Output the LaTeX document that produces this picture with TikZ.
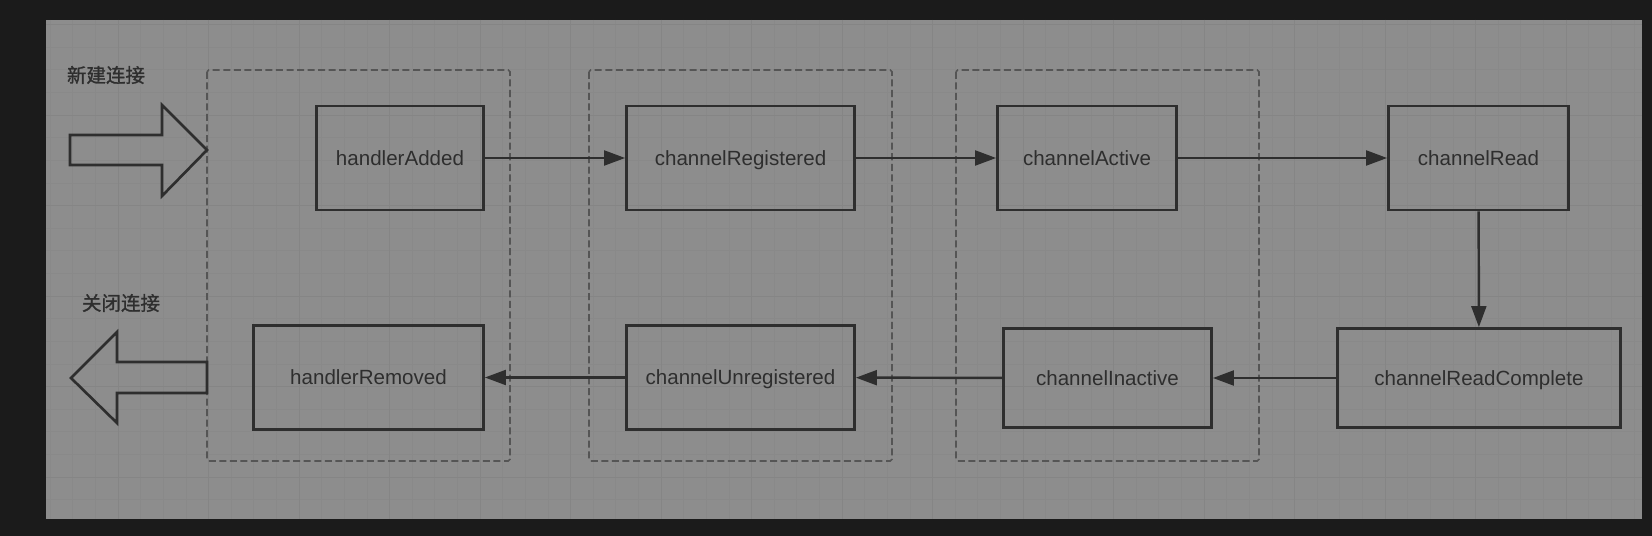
\documentclass[tikz,border=0pt]{standalone}
\usepackage{fontspec}
\setmainfont{Liberation Sans}
\newfontfamily\cjkfont[FakeBold=1.2]{Noto Sans CJK SC}
\usepackage{tikz}
\usetikzlibrary{arrows.meta,positioning}

\definecolor{canvas}{HTML}{1B1B1B}
\definecolor{board}{HTML}{8D8D8D}
\definecolor{gridminor}{HTML}{898989}
\definecolor{gridmajor}{HTML}{858585}
\definecolor{ink}{HTML}{2E2E2E}
\definecolor{dashink}{HTML}{555555}

\begin{document}
\begin{tikzpicture}[%
                x=0.02cm, y=-0.02cm,
                hook/.style={draw=ink, line width=1.6pt, text=ink, inner sep=0pt,
                  font=\fontsize{11.7}{14}\selectfont, text height=8.4pt, text depth=0pt,
                  minimum height=2.08cm},
                flow/.style={draw=ink, line width=1.4pt, -{Triangle[length=12pt,width=8.5pt]}},
                group/.style={draw=dashink, line width=0.9pt, dash pattern=on 4pt off 2pt, rounded corners=1pt},
                bigarrow/.style={draw=ink, line width=1.5pt, line join=miter},
                caption/.style={text=ink, font=\cjkfont\fontsize{11.1}{13}\selectfont, inner sep=0pt}
              ]

              \useasboundingbox (0,0) rectangle (1652,536);
              \fill[canvas] (0,0) rectangle (1652,536);
              \fill[board] (46,20) rectangle (1642,519);

              \begin{scope}
                \clip (46,20) rectangle (1642,519);
                \foreach \k in {0,...,72} {\draw[gridminor, line width=0.4pt] ({27.5+\k*22.625},20) -- ({27.5+\k*22.625},519);};
                \foreach \k in {0,...,21} {\draw[gridminor, line width=0.4pt] (46,{24.5+\k*22.625}) -- (1642,{24.5+\k*22.625});};
                \foreach \k in {0,...,18} {\draw[gridmajor, line width=0.5pt] ({27.5+\k*90.5},20) -- ({27.5+\k*90.5},519);};
                \foreach \k in {0,...,5}  {\draw[gridmajor, line width=0.5pt] (46,{24.5+\k*90.5}) -- (1642,{24.5+\k*90.5});};
              \end{scope}

              \foreach \l/\r in {207/510, 589/892, 956/1259} {\draw[group] (\l,70) rectangle (\r,461);};

              \node[caption] (open)  at (106,75)  {新建连接};
              \node[caption] (close) at (121,303) {关闭连接};

              \draw[bigarrow] (70,135) -- (162,135) -- (162,105) -- (207,150) -- (162,196) -- (162,165) -- (70,165) -- cycle;
              \draw[bigarrow] (207,362) -- (117,362) -- (117,332) -- (71,378) -- (117,423) -- (117,393) -- (207,393) -- cycle;

              \node[hook, minimum width=3.34cm] (added)        at (400,158)    {handlerAdded};
              \node[hook, minimum width=4.56cm] (registered)   at (740.5,158)  {channelRegistered};
              \node[hook, minimum width=3.58cm] (active)       at (1087,158)   {channelActive};
              \node[hook, minimum width=3.60cm] (read)         at (1478.5,158) {channelRead};
              \node[hook, minimum width=5.66cm, minimum height=1.98cm] (readcomplete) at (1479,378)   {channelReadComplete};
              \node[hook, minimum width=4.16cm, minimum height=1.98cm] (inactive)     at (1107.5,378) {channelInactive};
              \node[hook, minimum width=4.56cm] (unregistered) at (740.5,377.5) {channelUnregistered};
              \node[hook, minimum width=4.60cm] (removed)      at (368.5,377.5) {handlerRemoved};

              \path (added)        edge[flow] (registered)
              (registered)         edge[flow] (active)
              (active)             edge[flow] (read)
              (read)               edge[flow] (readcomplete)
              (readcomplete)       edge[flow] (inactive)
              (inactive)           edge[flow] (unregistered)
              (unregistered)       edge[flow] (removed);
            \end{tikzpicture}
\end{document}
